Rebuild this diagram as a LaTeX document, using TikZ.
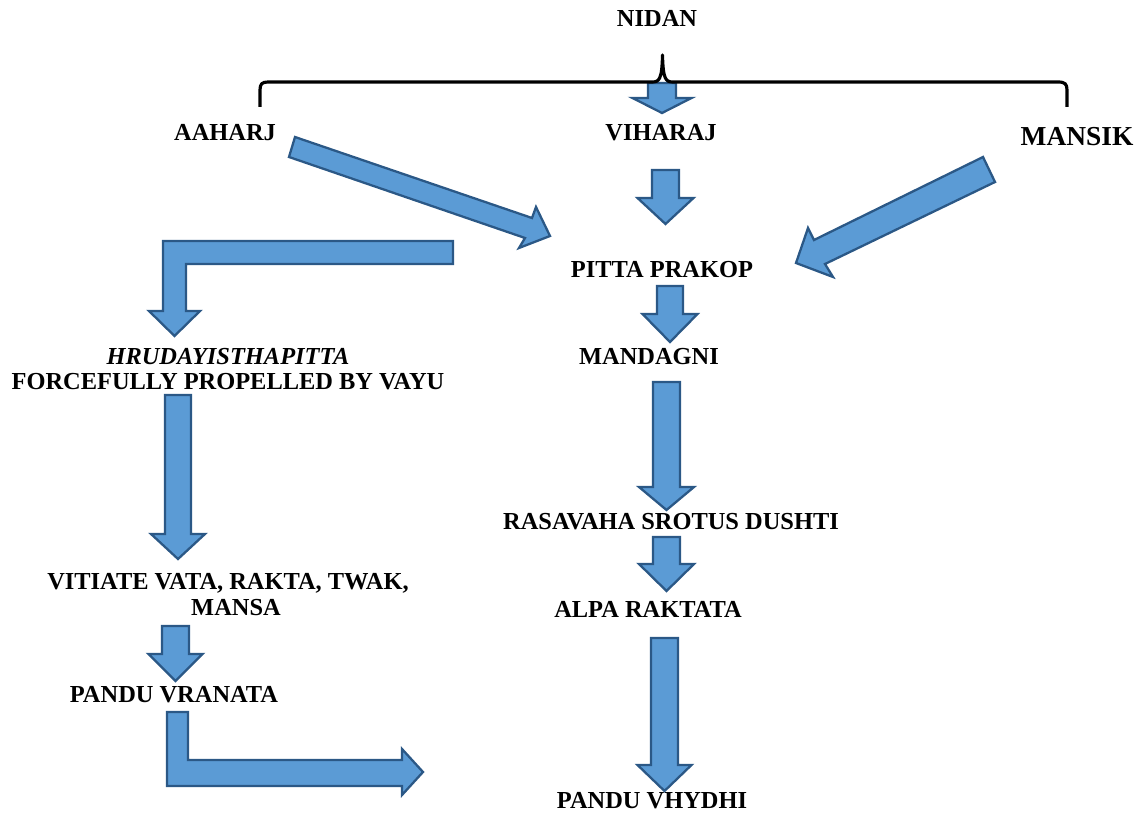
\documentclass[tikz,border=0pt]{standalone}
\usepackage{fontspec}
\setmainfont{Liberation Serif}
\definecolor{afill}{HTML}{5B9BD5}
\definecolor{aline}{HTML}{2B5886}
\newcommand\dnarrow[6]{% cx, shaft half, top, headbase, head half, tip
  \draw[blk] ({#1-#2},#3) -- ({#1+#2},#3) -- ({#1+#2},#4) -- ({#1+#5},#4) -- (#1,#6) -- ({#1-#5},#4) -- ({#1-#2},#4) -- cycle;}
\begin{document}
\begin{tikzpicture}[x=0.02cm,y=-0.02cm,
  lbl/.style={font=\fontsize{13.9}{14.2}\selectfont\bfseries, align=center, inner sep=0pt},
  blk/.style={fill=afill, draw=aline, line width=1.3pt, line join=miter}]
\useasboundingbox (0,0) rectangle (1135,813);

% labels
\node[lbl] (nidan) at (657,18) {NIDAN};
\node[lbl] (aaharj) at (225,133) {AAHARJ};
\node[lbl] (viharaj) at (661,133) {VIHARAJ};
\node[lbl, font=\fontsize{15.6}{17}\selectfont\bfseries] (mansik) at (1077,137) {MANSIK};
\node[lbl] (pitta) at (662,270) {PITTA PRAKOP};
\node[lbl] (mandagni) at (649,357) {MANDAGNI};
\node[lbl] (hruday) at (228,369) {\itshape HRUDAYISTHAPITTA\\FORCEFULLY PROPELLED BY VAYU};
\node[lbl] (rasavaha) at (671,522) {RASAVAHA SROTUS DUSHTI};
\node[lbl] (vitiate) at (228,583) {VITIATE VATA, RAKTA, TWAK,};
\node[lbl] (mansa) at (236,608) {MANSA};
\node[lbl] (alpa) at (648,609) {ALPA RAKTATA};
\node[lbl] (vranata) at (174,695) {PANDU VRANATA};
\node[lbl] (vhydhi) at (652,801) {PANDU VHYDHI};

% block arrows
\dnarrow{662}{14}{83}{98}{29.5}{113}
\dnarrow{665.5}{13.5}{170}{198}{28}{224}
\dnarrow{670}{13}{286}{314}{27.5}{342}
\dnarrow{666.5}{13.5}{382}{487}{27.5}{510}
\dnarrow{666.5}{13.5}{537}{564}{27.5}{591}
\dnarrow{664.5}{13.5}{638}{765}{27}{791}
\dnarrow{178}{13}{395}{534}{27}{559}
\dnarrow{175.5}{13.5}{626}{654}{27}{681}

% diagonal arrows
\draw[blk] (295,137) -- (532,218) -- (536,207) -- (550,236) -- (519,248) -- (525,238) -- (289,157) -- cycle;
\draw[blk] (983,157) -- (814,240) -- (808,228) -- (796,263) -- (833,277) -- (825,264) -- (995,182) -- cycle;

% bent arrows
\draw[blk] (453,241) -- (163,241) -- (163,311) -- (149,311) -- (174.5,336) -- (200,311) -- (186,311) -- (186,264) -- (453,264) -- cycle;
\draw[blk] (167,712) -- (188,712) -- (188,760) -- (402,760) -- (402,749) -- (423,772) -- (402,795) -- (402,786) -- (167,786) -- cycle;

% brace
\draw[line width=1.8pt, line cap=butt, line join=round]
  (260,107) -- (260,90) .. controls (260,84) and (262,82) .. (268,82)
  -- (652,82) .. controls (659,82) and (662,80) .. (662.5,55)
  .. controls (663,80) and (666,82) .. (673,82)
  -- (1058,82) .. controls (1065,82) and (1067,84) .. (1067,90) -- (1067,107);
\end{tikzpicture}
\end{document}
